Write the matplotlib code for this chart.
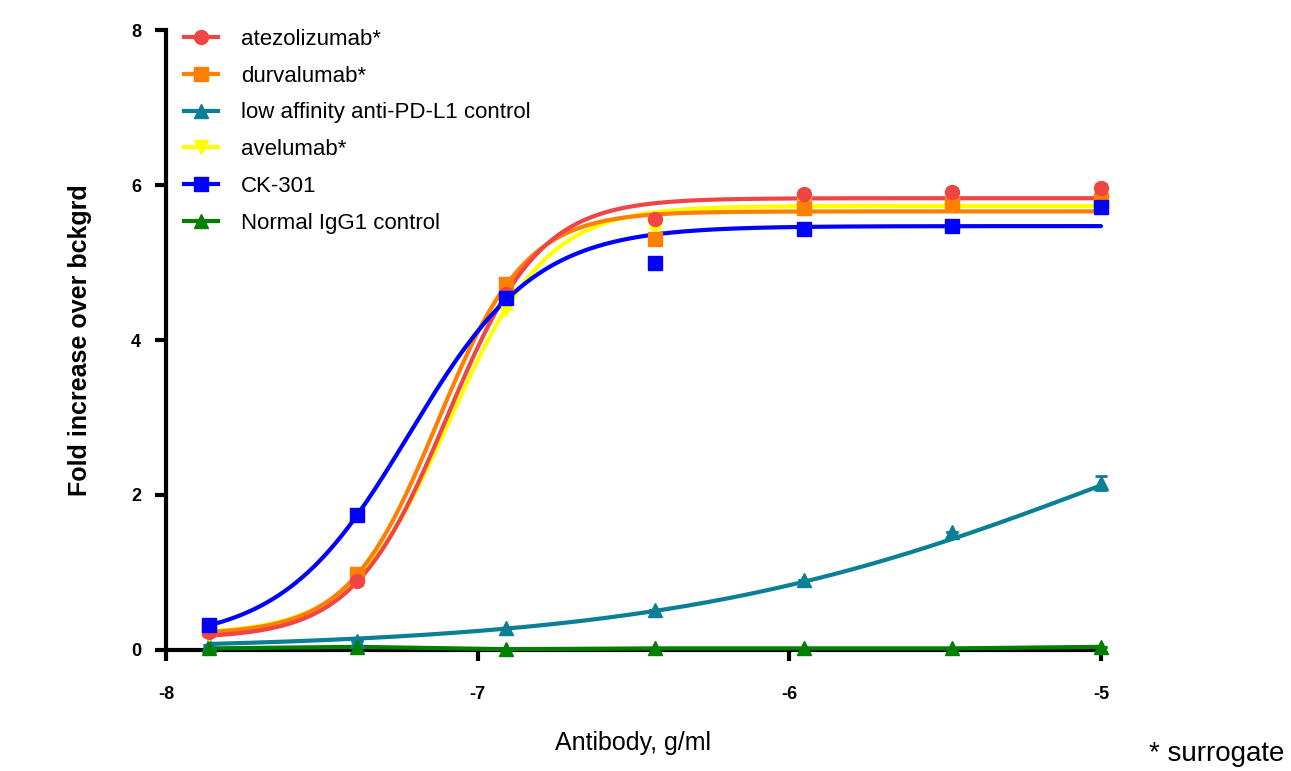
import numpy as np
import matplotlib.pyplot as plt

plt.rcParams['font.family'] = ['Liberation Sans', 'DejaVu Sans']

# log10 antibody concentration, g/ml (3-fold dilutions)
log_conc = [-7.863, -7.386, -6.908, -6.431, -5.954, -5.477, -5.0]

names = ["atezolizumab*", "durvalumab*", "low affinity anti-PD-L1 control",
         "avelumab*", "CK-301", "Normal IgG1 control"]
colors = ["#f04545", "#ff7f00", "#0a7f96", "#ffff00", "#0000ff", "#007f00"]
markers = ["o", "s", "^", "v", "s", "^"]

atezo = [0.23, 0.89, 4.59, 5.56, 5.88, 5.91, 5.96]
durva = [0.27, 0.98, 4.72, 5.30, 5.70, 5.77, 5.81]
lowaff = [0.07, 0.12, 0.28, 0.52, 0.90, 1.52, 2.15]
avelu = [0.20, 0.92, 4.40, 5.45, 5.75, 5.75, 5.75]
ck301 = [0.32, 1.74, 4.54, 5.00, 5.43, 5.47, 5.72]
igg1 = [0.02, 0.04, 0.01, 0.02, 0.02, 0.02, 0.04]
series = [atezo, durva, lowaff, avelu, ck301, igg1]

# error bars (SEM)
errs = [[0.05] * 7, [0.05] * 7, [0, 0, 0, 0, 0, 0, 0.09],
        [0] * 7, [0, 0, 0, 0.06, 0, 0, 0], [0] * 7]

# 4PL fit parameters: bottom, top, logEC50, hill
fits = [(0.15, 5.83, -7.10, 2.9),
        (0.20, 5.66, -7.13, 3.05),
        (0.00, 4.40, -4.95, 0.6),
        (0.20, 5.73, -7.09, 2.77),
        (0.10, 5.47, -7.22, 2.14),
        None]

fig = plt.figure(figsize=(12.91, 7.71), dpi=100)
ax = fig.add_axes([0.1286, 0.157, 0.7242, 0.804])

xs = np.linspace(log_conc[0], -5.0, 300)
order = [2, 5, 3, 1, 0, 4]
for i in order:
    c = colors[i]
    if fits[i] is not None:
        b, t, ec, h = fits[i]
        ys = b + (t - b) / (1 + 10 ** ((ec - xs) * h))
        ax.plot(xs, ys, color=c, lw=3, solid_capstyle='round', zorder=3, clip_on=False)
    else:
        ax.plot(log_conc, series[i], color=c, lw=3, zorder=3, clip_on=False)
    ax.errorbar(log_conc, series[i], yerr=errs[i], fmt='none', ecolor=c,
                elinewidth=2, capsize=4, capthick=2, zorder=4, clip_on=False)
    ax.plot(log_conc, series[i], ls='none', marker=markers[i], ms=10, color=c,
            mec=c, zorder=5, clip_on=False)

# legend handles
handles = []
for i in range(6):
    h, = ax.plot([], [], color=colors[i], lw=3, marker=markers[i], ms=10, mec=colors[i])
    handles.append(h)
ax.legend(handles, names, loc='upper left', bbox_to_anchor=(0.0195, 1.002),
          frameon=False, fontsize=16, handlelength=1.5, labelspacing=0.71,
          handletextpad=1.05, borderaxespad=0, borderpad=0)

ax.set_xlim(-8, -5)
ax.set_ylim(0, 8)
ax.set_xticks([-8, -7, -6, -5])
ax.set_yticks([0, 2, 4, 6, 8])
ax.set_xticklabels(["-8", "-7", "-6", "-5"], fontweight='bold', fontsize=13)
ax.set_yticklabels(["0", "2", "4", "6", "8"], fontweight='bold', fontsize=13)
ax.spines['top'].set_visible(False)
ax.spines['right'].set_visible(False)
ax.spines['left'].set_linewidth(3)
ax.spines['bottom'].set_linewidth(3)
ax.tick_params(width=3, length=8, pad=10)
ax.tick_params(axis='x', pad=18)

ax.set_ylabel("Fold increase over bckgrd", fontsize=18, fontweight='bold', labelpad=28)
ax.set_xlabel("Antibody, g/ml", fontsize=18, labelpad=20)

fig.text(0.995, 0.005, "* surrogate", fontsize=20, ha='right', va='bottom')

fig.savefig("out.png", dpi=100)
